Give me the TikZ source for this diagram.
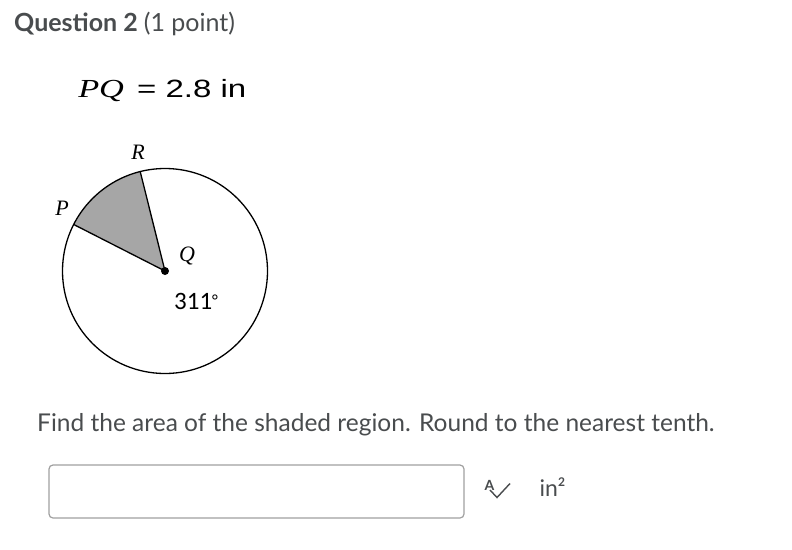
\documentclass[tikz,border=0pt]{standalone}
\usepackage{fontspec}
\setmainfont{Lato}
\newfontfamily\latofont{Lato}
\newfontfamily\sansfont{Liberation Sans}
\newfontfamily\calfont{Carlito}
\newfontfamily\serfont{Liberation Serif}
\definecolor{txt}{HTML}{494C4E}
\definecolor{sector}{HTML}{A6A6A6}
\definecolor{boxline}{HTML}{A0A0A0}
\tikzset{
  lbl/.style={inner sep=0pt, font=\serfont\itshape\fontsize{22}{22}\selectfont},
  ui/.style={inner sep=0pt, anchor=base west, text=txt},
  geo/.style={line width=1.3pt, black}
}
\begin{document}
\begin{tikzpicture}[x=1pt,y=-1pt]
\useasboundingbox[fill=white] (0,0) rectangle (792,549);
% title
\node[ui, font=\latofont\bfseries\fontsize{25}{25}\selectfont] (title) at (14,31.5) {Question 2 \mdseries(1 point)};
% given
\node[inner sep=0pt, anchor=base west, xscale=1.32] (given) at (78,97) {\serfont\itshape\fontsize{26}{26}\selectfont PQ\sansfont\upshape\fontsize{25}{25}\selectfont{}\hspace{0.12em} = 2.8 in};
% circle
\coordinate (Q) at (165,271);
\def\rad{102.5}
\coordinate (P) at ([shift={(-153:\rad)}]Q);
\coordinate (R) at ([shift={(-104:\rad)}]Q);
\fill[sector] (Q) -- (R) arc[start angle=-104, end angle=-153, radius=\rad] -- cycle;
\draw[geo] (Q) circle[radius=\rad];
\draw[geo] (Q) -- (P);
\draw[geo] (Q) -- (R);
\fill (Q) circle[radius=4];
\node[lbl] (Rl) at (138,152) {R};
\node[lbl] (Pl) at (62,208) {P};
\node[lbl] (Ql) at (187,256) {Q};
\node[inner sep=0pt, anchor=base west, font=\calfont\fontsize{25}{25}\selectfont] (ang) at (174,309) {311\raisebox{0.1em}{\fontsize{17}{17}\selectfont °}};
% question
\node[ui, font=\latofont\fontsize{24.5}{24.5}\selectfont] (find) at (37,431.5) {Find the area of the shaded region. Round to the nearest tenth.};
% answer box
\draw[boxline, line width=1.2pt, rounded corners=4pt] (49,465) rectangle (464,518);
\node[ui, font=\latofont\bfseries\fontsize{14}{14}\selectfont] (icA) at (484.5,490) {A};
\draw[txt, line width=1.4pt] (490,490) -- (497,497.5) -- (510,483.5);
\node[ui, font=\latofont\fontsize{23}{23}\selectfont] (unit) at (539.5,496.5) {in\raisebox{0.42em}{\fontsize{12}{12}\selectfont\bfseries 2}};
\end{tikzpicture}
\end{document}
